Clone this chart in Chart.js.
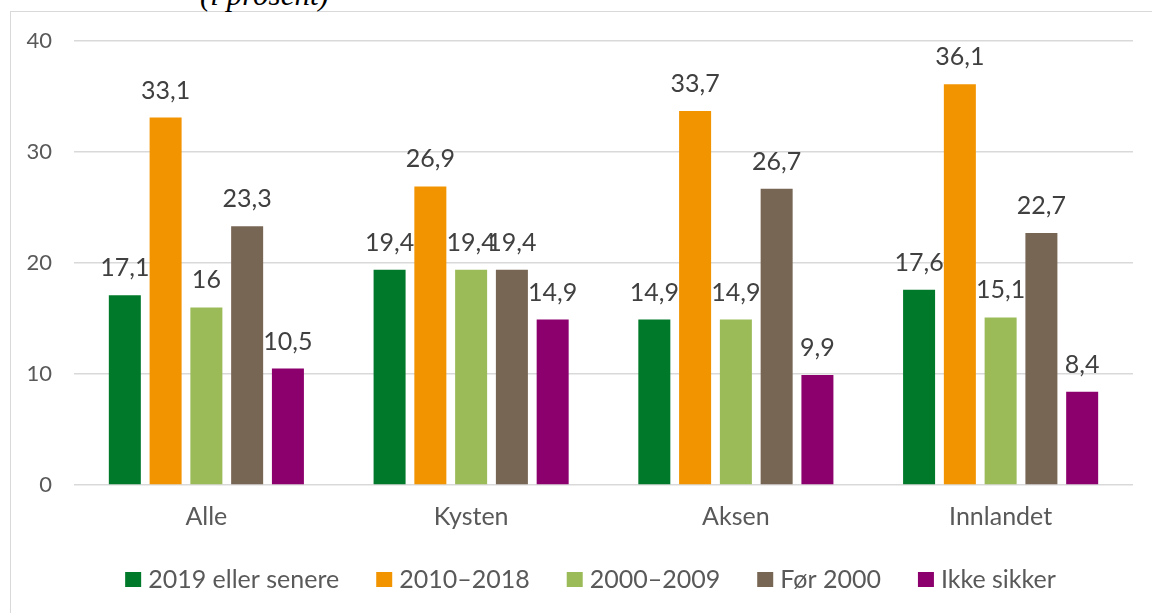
<!DOCTYPE html>
<html>
<head>
<meta charset="utf-8">
<script src="https://cdn.jsdelivr.net/npm/chart.js@4.4.1/dist/chart.umd.min.js"></script>
<style>
  html, body { margin: 0; padding: 0; background: #fff; }
  body { width: 1152px; height: 613px; position: relative; overflow: hidden; }
  #frame { position: absolute; left: 10px; top: 11px; width: 1200px; height: 700px;
           border-left: 1.5px solid #d9d9d9; border-top: 1.5px solid #d9d9d9; }
  #title { position: absolute; left: 200px; top: -21px; font: italic 31px/31px "Liberation Serif", serif;
           color: #000; white-space: nowrap; }
  #wrap { position: absolute; left: 0; top: 0; width: 1152px; height: 613px; }
</style>
</head>
<body>
<div id="frame"></div>
<div id="title">(i prosent)</div>
<div id="wrap"><canvas id="c"></canvas></div>
<script>
const categories = ["Alle", "Kysten", "Aksen", "Innlandet"];
const seriesNames = ["2019 eller senere", "2010–2018", "2000–2009", "Før 2000", "Ikke sikker"];
const s2019 = [17.1, 19.4, 14.9, 17.6];
const s2010 = [33.1, 26.9, 33.7, 36.1];
const s2000 = [16, 19.4, 14.9, 15.1];
const sFor2000 = [23.3, 19.4, 26.7, 22.7];
const sIkke = [10.5, 14.9, 9.9, 8.4];
const yTicks = [0, 10, 20, 30, 40];
const colors = ["#007a2a", "#f29400", "#9bbb59", "#786654", "#8c006e"];

const FONT = "Lato, 'Open Sans', sans-serif";

const dataLabels = {
  id: 'dataLabels',
  afterDatasetsDraw(chart) {
    const ctx = chart.ctx;
    ctx.save();
    ctx.font = "25px " + FONT;
    ctx.fillStyle = "#404040";
    ctx.textAlign = "center";
    ctx.textBaseline = "middle";
    chart.data.datasets.forEach((ds, i) => {
      chart.getDatasetMeta(i).data.forEach((bar, j) => {
        const t = String(ds.data[j]).replace('.', ',');
        ctx.fillText(t, bar.x, bar.y - 27);
      });
    });
    ctx.restore();
  }
};

const customLegend = {
  id: 'customLegend',
  afterDraw(chart) {
    const ctx = chart.ctx;
    ctx.save();
    ctx.font = "25px " + FONT;
    ctx.textBaseline = "middle";
    ctx.textAlign = "left";
    const boxW = 16, boxH = 15, gapBox = 7, gapItem = 37;
    const items = chart.data.datasets.map(d => ({ text: d.label, color: d.backgroundColor, w: ctx.measureText(d.label).width }));
    let total = 0;
    items.forEach((it, i) => { total += boxW + gapBox + it.w + (i < items.length - 1 ? gapItem : 0); });
    let x = 590.5 - total / 2;
    const y = 579.5;
    items.forEach(it => {
      ctx.fillStyle = it.color;
      ctx.fillRect(x, y - boxH / 2, boxW, boxH);
      ctx.fillStyle = "#595959";
      ctx.fillText(it.text, x + boxW + gapBox, y);
      x += boxW + gapBox + it.w + gapItem;
    });
    ctx.restore();
  }
};

const seriesData = [s2019, s2010, s2000, sFor2000, sIkke];

new Chart(document.getElementById('c'), {
  type: 'bar',
  data: {
    labels: categories,
    datasets: seriesNames.map((n, i) => ({
      label: n,
      data: seriesData[i],
      backgroundColor: colors[i],
      borderWidth: 0,
      categoryPercentage: 0.77,
      barPercentage: 0.785
    }))
  },
  options: {
    responsive: true,
    maintainAspectRatio: false,
    animation: false,
    layout: { padding: { top: 41, right: 19, bottom: 80, left: 0 } },
    plugins: { legend: { display: false }, tooltip: { enabled: false } },
    scales: {
      x: {
        grid: { display: false },
        border: { display: false },
        ticks: { font: { family: FONT, size: 25 }, color: "#595959", padding: 9 },
        afterFit(scale) { scale.height = 48; }
      },
      y: {
        min: 0, max: 40,
        afterBuildTicks(scale) { scale.ticks = yTicks.map(v => ({ value: v })); },
        grid: { color: "#d9d9d9", lineWidth: 1.5, drawTicks: false },
        border: { display: false },
        ticks: { font: { family: FONT, size: 22 }, color: "#595959", padding: 22 },
        afterFit(scale) { scale.width = 74; }
      }
    }
  },
  plugins: [dataLabels, customLegend]
});
</script>
</body>
</html>
